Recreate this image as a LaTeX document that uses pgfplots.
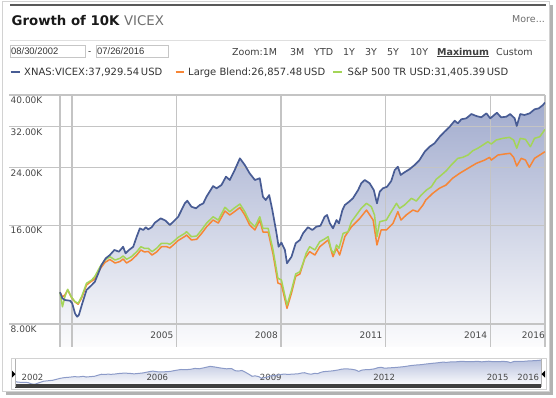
\documentclass[border=0pt]{standalone}
\usepackage{fontspec}
\setmainfont{DejaVu Sans}
\newfontfamily\lib{Liberation Sans}
\usepackage{pgfplots}
\usepackage{pgfplotstable}
\pgfplotsset{compat=1.18}
\definecolor{vblue}{RGB}{72,92,148}
\definecolor{vorange}{RGB}{247,134,54}
\definecolor{vgreen}{RGB}{164,213,88}
\definecolor{gridc}{RGB}{196,196,196}
\definecolor{filltop}{RGB}{162,172,206}
\definecolor{fillbot}{RGB}{252,252,253}
\definecolor{navline}{RGB}{140,155,200}
\definecolor{navtop}{RGB}{185,194,222}
\definecolor{txt}{RGB}{51,51,51}
\definecolor{ltxt}{RGB}{110,110,110}

\pgfplotstableread{
year val
2002.66 10000
2002.73 9580
2002.80 9470
2002.95 9420
2003.01 9250
2003.09 8620
2003.15 8420
2003.20 8520
2003.30 9250
2003.42 10160
2003.57 10520
2003.66 10770
2003.76 11430
2003.85 12110
2003.97 12690
2004.09 12990
2004.22 13460
2004.35 13300
2004.47 13770
2004.54 13150
2004.64 13460
2004.76 13770
2004.86 14780
2004.95 15670
2005.05 15490
2005.12 15790
2005.19 15560
2005.29 15790
2005.38 16300
2005.55 16810
2005.69 16530
2005.81 16040
2005.91 16420
2006.05 17000
2006.24 18680
2006.31 19030
2006.43 18240
2006.56 18040
2006.67 18460
2006.77 18680
2006.86 19570
2006.98 20510
2007.05 21090
2007.15 20760
2007.29 21240
2007.42 22530
2007.53 22010
2007.67 23600
2007.82 25630
2007.96 24450
2008.10 23060
2008.25 22010
2008.39 22280
2008.48 19570
2008.56 19120
2008.66 19800
2008.75 17820
2008.87 15130
2008.93 13770
2009.01 14170
2009.11 13460
2009.17 12260
2009.30 12840
2009.42 14110
2009.54 14440
2009.63 15130
2009.77 15790
2009.90 15490
2010.01 15850
2010.13 15960
2010.25 17000
2010.32 17210
2010.40 16230
2010.49 15670
2010.59 16610
2010.66 16230
2010.76 17820
2010.83 18460
2010.95 18890
2011.06 19350
2011.21 20510
2011.30 21510
2011.40 22010
2011.54 21510
2011.66 20510
2011.75 18680
2011.83 20270
2011.92 20760
2012.04 20990
2012.16 21860
2012.26 23600
2012.35 24160
2012.43 22800
2012.54 23230
2012.69 23770
2012.83 24450
2012.97 25320
2013.12 26850
2013.26 27810
2013.40 28480
2013.55 29830
2013.69 30910
2013.83 31940
2013.98 33390
2014.07 32780
2014.17 33720
2014.31 33950
2014.46 34990
2014.60 34510
2014.74 34200
2014.89 35160
2015.00 33950
2015.19 35310
2015.31 34200
2015.46 34340
2015.57 34990
2015.70 33950
2015.76 32170
2015.86 34990
2015.98 34750
2016.13 35160
2016.27 36170
2016.39 36420
2016.51 37270
2016.57 37930
}\vicex

\pgfplotstableread{
year val
2002.66 10000
2002.73 9030
2002.80 9690
2002.88 10210
2002.98 9690
2003.09 9360
2003.18 9250
2003.28 9690
2003.42 10650
2003.57 10900
2003.66 11180
2003.81 11970
2003.95 12540
2004.09 12840
2004.24 12540
2004.38 12690
2004.47 12900
2004.57 12610
2004.71 12840
2004.86 13300
2004.98 13770
2005.08 13620
2005.19 13620
2005.30 13300
2005.43 13620
2005.57 14110
2005.72 14110
2005.81 14010
2005.91 14270
2006.05 14710
2006.24 15130
2006.29 15300
2006.43 14780
2006.58 14850
2006.72 15490
2006.86 16230
2007.05 17000
2007.20 16610
2007.39 18170
2007.53 17610
2007.65 18040
2007.82 18590
2007.96 17610
2008.10 16420
2008.25 15850
2008.39 17000
2008.48 15670
2008.63 15670
2008.77 13460
2008.91 11030
2009.01 10900
2009.17 9140
2009.30 10160
2009.42 11370
2009.54 11550
2009.63 12260
2009.72 13150
2009.82 13770
2009.97 13460
2010.11 14270
2010.25 14540
2010.35 14780
2010.44 13460
2010.52 13150
2010.59 13940
2010.66 13620
2010.78 15130
2010.92 15300
2011.02 16420
2011.16 17210
2011.30 18040
2011.45 18680
2011.59 18240
2011.68 17210
2011.75 14780
2011.83 16420
2012.02 16610
2012.16 17610
2012.31 18680
2012.40 18040
2012.54 18460
2012.74 19350
2012.88 18990
2013.02 19800
2013.17 20510
2013.31 20990
2013.45 22120
2013.60 22800
2013.74 23490
2013.88 24450
2014.07 25630
2014.21 25810
2014.36 26230
2014.50 27040
2014.64 27500
2014.79 28150
2014.93 28800
2015.03 28340
2015.17 29150
2015.36 29500
2015.55 29700
2015.67 29150
2015.76 27500
2015.86 29500
2016.01 29290
2016.15 27810
2016.27 29500
2016.42 29830
2016.57 31410
}\sptr

\pgfplotstableread{
year val
2002.66 10000
2002.73 9670
2002.80 9810
2002.88 10160
2002.98 9670
2003.09 9340
2003.18 9190
2003.28 9600
2003.42 10520
2003.57 10820
2003.66 10980
2003.81 11780
2003.95 12330
2004.09 12590
2004.24 12280
2004.38 12410
2004.47 12630
2004.57 12280
2004.71 12540
2004.86 12990
2004.98 13460
2005.08 13270
2005.19 13320
2005.30 12990
2005.43 13270
2005.57 13770
2005.72 13770
2005.81 13650
2005.91 13940
2006.05 14390
2006.24 14800
2006.29 14950
2006.43 14440
2006.58 14510
2006.72 15110
2006.86 15820
2007.05 16610
2007.20 16270
2007.39 17700
2007.53 17210
2007.65 17580
2007.82 18140
2007.96 17210
2008.10 16040
2008.25 15490
2008.39 16610
2008.48 15270
2008.63 15270
2008.77 13080
2008.91 10670
2009.01 10560
2009.17 8930
2009.30 9950
2009.42 11190
2009.54 11370
2009.68 12690
2009.82 13300
2009.97 12990
2010.11 13770
2010.35 14440
2010.49 12840
2010.59 13620
2010.68 12990
2010.83 14780
2011.02 15850
2011.26 16810
2011.45 17820
2011.64 16610
2011.75 13940
2011.87 15490
2012.02 15490
2012.21 16230
2012.35 17610
2012.44 16610
2012.59 17210
2012.78 17820
2012.92 17610
2013.07 18460
2013.15 19120
2013.35 20040
2013.54 20760
2013.73 21240
2013.92 22280
2014.12 23060
2014.36 23890
2014.60 24740
2014.84 25320
2014.98 25810
2015.03 25320
2015.22 26230
2015.41 26420
2015.57 26550
2015.67 25810
2015.76 24280
2015.89 25630
2016.01 25320
2016.12 24060
2016.27 25630
2016.42 26230
2016.57 26860
}\lblend

\begin{document}
\begin{tikzpicture}
\path[use as bounding box] (0,0) rectangle (556pt,-397pt);
% frame with shadow
\fill[gray!60] (549pt,-5pt) rectangle (553pt,-395pt);
\fill[gray!60] (6pt,-391pt) rectangle (553pt,-395pt);
\draw[gray!35] (2pt,-1pt) rectangle (549pt,-391pt);
\draw[line width=2pt, gray!70!black] (10pt,-5pt) -- (546pt,-5pt);
\draw[gray!25] (10pt,-40pt) -- (546pt,-40pt);
% title
\node[anchor=base west, inner sep=0pt, text=black!90] at (11.5pt,-25pt)
  {\fontsize{13.3}{15}\selectfont\bfseries Growth of 10K\ \mdseries\color{ltxt}VICEX};
\node[anchor=base east, inner sep=0pt, text=ltxt] at (545pt,-22pt)
  {\fontsize{9.5}{11}\selectfont More...};
% date boxes
\draw[gray!45] (10pt,-45pt) rectangle (85pt,-57pt);
\draw[gray!45] (96pt,-45pt) rectangle (168pt,-57pt);
\node[anchor=base west, inner sep=0pt, text=txt] at (11pt,-54.5pt) {\lib\fontsize{9.4}{11}\selectfont 08/30/2002};
\node[anchor=base west, inner sep=0pt, text=txt] at (88pt,-54.5pt) {\lib\fontsize{9.4}{11}\selectfont -};
\node[anchor=base west, inner sep=0pt, text=txt] at (97pt,-54.5pt) {\lib\fontsize{9.4}{11}\selectfont 07/26/2016};
% zoom row
\begin{scope}[every node/.style={anchor=base west, inner sep=0pt, text=black!75, font=\fontsize{9.5}{11}\selectfont}]
\node at (232pt,-55pt) {Zoom:1M};
\node at (290pt,-55pt) {3M};
\node at (314pt,-55pt) {YTD};
\node at (343pt,-55pt) {1Y};
\node at (365pt,-55pt) {3Y};
\node at (387pt,-55pt) {5Y};
\node at (410pt,-55pt) {10Y};
\node at (437pt,-55pt) {\bfseries\underline{Maximum}};
\node at (496pt,-55pt) {Custom};
\end{scope}
% legend
\draw[vblue, line width=2pt] (10.6pt,-72pt) -- (19.5pt,-72pt);
\draw[vorange, line width=2pt] (175.5pt,-72pt) -- (184pt,-72pt);
\draw[vgreen, line width=2pt] (333pt,-72pt) -- (342pt,-72pt);
\begin{scope}[every node/.style={anchor=base west, inner sep=0pt, text=txt, font=\fontsize{10}{12}\selectfont}]
\node at (24pt,-75.5pt) {XNAS:VICEX:37,929.54\,USD};
\node at (188pt,-75.5pt) {Large Blend:26,857.48\,USD};
\node at (347.5pt,-75.5pt) {S\&P 500 TR USD:31,405.39\,USD};
\end{scope}

% main chart: area fill underneath
\begin{axis}[
  at={(9pt,-347pt)}, anchor=south west,
  scale only axis, width=536pt, height=252pt,
  ymode=log, ymin=6806, ymax=40000,
  xmin=2001.197, xmax=2016.57,
  log origin y=infty, hide axis,
]
\addplot[draw=none, top color=filltop, bottom color=fillbot] table[x=year,y=val] {\vicex} \closedcycle;
\end{axis}
% grid lines over the fill (8K..40K and year lines)
\foreach \gy in {95,126.7,167.7,225.4,324} {
  \draw[gridc, line width=1.3pt] (9pt,-\gy pt) -- (545pt,-\gy pt);
}
\foreach \gx in {60,71.9,176.5,281.1,385.7,490.3,545} {
  \draw[gridc, line width=1.3pt] (\gx pt,-95pt) -- (\gx pt,-347pt);
}
% main chart: labels and lines
\begin{axis}[
  at={(9pt,-347pt)}, anchor=south west,
  scale only axis, width=536pt, height=252pt,
  ymode=log, ymin=6806, ymax=40000,
  xmin=2001.197, xmax=2016.57,
  xtick={2006,2009,2012,2015},
  xticklabels={2005,2008,2011,2014},
  extra x ticks={2016.57},
  extra x tick labels={2016},
  extra x tick style={xticklabel style={xshift=3pt}},
  ytick={8000,16000,24000,32000,40000},
  yticklabels={8.00K,16.00K,24.00K,32.00K,40.00K},
  tick style={draw=none},
  major tick length=0pt,
  axis line style={draw=none},
  /pgf/number format/assume math mode=true,
  ticklabel style={font=\fontsize{9}{10}\selectfont, text=black!72},
  xticklabel style={anchor=base east, inner sep=0pt, yshift=8pt, xshift=-3pt},
  yticklabel style={anchor=north west, inner sep=0pt, xshift=1.5pt, yshift=-1.5pt},
]
\addplot[vorange, line width=1.5pt, line join=round] table[x=year,y=val] {\lblend};
\addplot[vgreen, line width=1.5pt, line join=round] table[x=year,y=val] {\sptr};
\addplot[vblue, line width=1.7pt, line join=round] table[x=year,y=val] {\vicex};
\end{axis}

% navigator
\draw[gray!35] (11pt,-358pt) rectangle (546pt,-389pt);
\begin{axis}[
  at={(15pt,-385pt)}, anchor=south west,
  scale only axis, width=526pt, height=26pt,
  ymode=log, ymin=8000, ymax=40500,
  xmin=2002.66, xmax=2016.57,
  log origin y=infty, hide axis,
]
\addplot[draw=none, top color=navtop, bottom color=fillbot] table[x=year,y=val] {\vicex} \closedcycle;
\end{axis}
\begin{axis}[
  at={(15pt,-385pt)}, anchor=south west,
  scale only axis, width=526pt, height=26pt,
  ymode=log, ymin=8000, ymax=40500,
  xmin=2002.66, xmax=2016.57,
  xtick={2002.70,2006,2009,2012,2015,2015.81},
  xticklabels={2002,2006,2009,2012,2015,2016},
  ytick=\empty,
  axis line style={draw=none},
  tick style={draw=none},
  major tick length=0pt,
  /pgf/number format/assume math mode=true,
  xticklabel style={anchor=base west, inner sep=0pt, yshift=5pt, xshift=5pt, font=\fontsize{8.5}{10}\selectfont, text=black!72},
]
\addplot[navline, line width=1pt] table[x=year,y=val] {\vicex};
\end{axis}
\fill[gray!50!black] (15pt,-384pt) rectangle (541pt,-387.5pt);
\draw[gray!60] (15pt,-359pt) -- (15pt,-387pt);
\draw[gray!60] (541pt,-359pt) -- (541pt,-387pt);
\fill[black] (12pt,-370.5pt) -- (15.5pt,-374pt) -- (12pt,-377.5pt) -- cycle;
\fill[black] (545pt,-370.5pt) -- (541.5pt,-374pt) -- (545pt,-377.5pt) -- cycle;
\end{tikzpicture}
\end{document}
